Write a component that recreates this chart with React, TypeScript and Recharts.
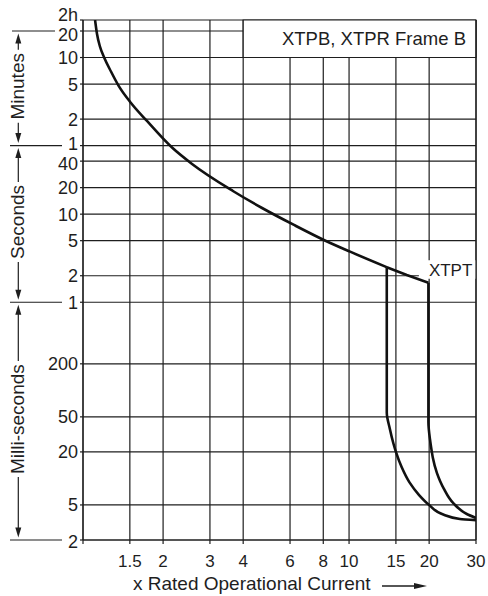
import React from 'react';
import {
  ComposedChart,
  Line,
  XAxis,
  YAxis,
  CartesianGrid,
  ReferenceArea,
  ReferenceLine,
} from 'recharts';

const FONT = '"Liberation Sans", Arial, Helvetica, sans-serif';
const INK = '#1e1e1e';

// ---- axes ----
const xTicks = [1, 1.5, 2, 3, 4, 6, 8, 10, 15, 20, 30];
const xTickLabels = ['', '1.5', '2', '3', '4', '6', '8', '10', '15', '20', '30'];
const yTicks = [1600, 1200, 600, 300, 120, 60, 40, 20, 10, 5, 2, 1, 0.2, 0.05, 0.02, 0.005, 0.002];
const yTickLabels = ['2h', '20', '10', '5', '2', '1', '40', '20', '10', '5', '2', '1', '200', '50', '20', '5', '2'];

// ---- curves: x = multiple of rated operational current, t = tripping time (s) ----
const frameBThermalX = [1.11, 1.129, 1.158, 1.202, 1.274, 1.358, 1.515, 1.736, 2.156, 2.57, 3.673, 4.71, 6.21, 8.19, 10.09, 13.86];
const frameBThermalT = [1600, 1109, 800, 597, 416, 290, 183, 115, 57.4, 37.1, 18.2, 11.75, 7.54, 4.96, 3.75, 2.5];

const xtptThermalX = [13.86, 16.48, 19.87];
const xtptThermalT = [2.5, 2.04, 1.667];

const frameBInstX = [13.86, 13.86, 14.23, 14.68, 15.0, 15.76, 16.87, 18.3, 20.0, 22.7, 26.1, 30];
const frameBInstT = [2.5, 0.056, 0.0367, 0.0249, 0.02, 0.01345, 0.00901, 0.00652, 0.005, 0.00387, 0.00346, 0.00336];

const xtptInstX = [19.87, 19.87, 20.2, 20.47, 20.65, 21.4, 22.0, 22.7, 24.7, 27.7, 30];
const xtptInstT = [1.667, 0.0436, 0.0261, 0.02, 0.01714, 0.01148, 0.0093, 0.00766, 0.0052, 0.00395, 0.00356];

const zip = (xs: number[], ts: number[]) => xs.map((x, i) => ({ x, t: ts[i] }));

const frameBThermal = zip(frameBThermalX, frameBThermalT);
const xtptThermal = zip(xtptThermalX, xtptThermalT);
const frameBInst = zip(frameBInstX, frameBInstT);
const xtptInst = zip(xtptInstX, xtptInstT);

const Y_DOMAIN: [number, number] = [0.002, 1600];
const X_DOMAIN: [number, number] = [1, 30];

// layout
const W = 488;
const H = 596;
const PLOT_TOP = 20;
const PLOT_BOTTOM = 540;

const near = (a: number, b: number) => Math.abs(a - b) / Math.max(Math.abs(b), 1e-9) < 1e-6;

// small vertical nudges for crowded tick labels
const yLabelNudge: [number, number][] = [
  [1600, -5],
  [1200, 4],
  [60, -2],
  [40, 2.5],
  [0.002, 2],
];

const YTick = (props: any) => {
  const { x, y, payload } = props;
  const v = payload.value;
  const i = yTicks.findIndex((t) => near(v, t));
  const label = i >= 0 ? yTickLabels[i] : '';
  const n = yLabelNudge.find(([t]) => near(v, t));
  const dy = n ? n[1] : 0;
  return (
    <text x={x} y={y + dy} dy="0.36em" textAnchor="end" fontSize={18} fill={INK} fontFamily={FONT}>
      {label}
    </text>
  );
};

const XTick = (props: any) => {
  const { x, y, payload } = props;
  const v = payload.value;
  const i = xTicks.findIndex((t) => near(v, t));
  const label = i >= 0 ? xTickLabels[i] : '';
  return (
    <text x={x} y={y + 15} dy="0.36em" textAnchor="middle" fontSize={17} fill={INK} fontFamily={FONT}>
      {label}
    </text>
  );
};

// annotation helper (same mapping as the y axis) for the side bands
const LMAX = Math.log10(Y_DOMAIN[1]);
const LMIN = Math.log10(Y_DOMAIN[0]);
const yPix = (v: number) => PLOT_TOP + ((LMAX - Math.log10(v)) / (LMAX - LMIN)) * (PLOT_BOTTOM - PLOT_TOP);

const bands = [
  { label: 'Minutes', top: 1200, bottom: 60, len: 67 },
  { label: 'Seconds', top: 60, bottom: 1, len: 74 },
  { label: 'Milli-seconds', top: 1, bottom: 0.002, len: 110 },
];

const AX = 18.3;

const SideBands = () => (
  <svg width={W} height={H} style={{ position: 'absolute', left: 0, top: 0, pointerEvents: 'none' }}>
    <line x1={12} x2={55} y1={yPix(1200)} y2={yPix(1200)} stroke={INK} strokeWidth={1.2} />
    {[60, 1, 0.002].map((v) => (
      <line key={v} x1={10} x2={62} y1={yPix(v)} y2={yPix(v)} stroke={INK} strokeWidth={1.2} />
    ))}
    {bands.map((b) => {
      const yT = yPix(b.top);
      const yB = yPix(b.bottom);
      const mid = (yT + yB) / 2 - 2;
      const tipT = yT + 2.5;
      const tipB = yB - 2.5;
      const tS = mid - b.len / 2 - 3;
      const tE = mid + b.len / 2 + 3;
      return (
        <g key={b.label}>
          <line x1={AX} x2={AX} y1={tipT + 6} y2={tS} stroke={INK} strokeWidth={1.2} />
          <line x1={AX} x2={AX} y1={tE} y2={tipB - 6} stroke={INK} strokeWidth={1.2} />
          <polygon points={`${AX},${tipT} ${AX - 3},${tipT + 10} ${AX + 3},${tipT + 10}`} fill={INK} />
          <polygon points={`${AX},${tipB} ${AX - 3},${tipB - 10} ${AX + 3},${tipB - 10}`} fill={INK} />
          <text
            x={AX - 1}
            y={mid}
            dy="0.36em"
            textAnchor="middle"
            fontSize={19}
            fill={INK}
            fontFamily={FONT}
            transform={`rotate(-90 ${AX - 1} ${mid})`}
          >
            {b.label}
          </text>
        </g>
      );
    })}
    <text x={133} y={583} dy="0.36em" fontSize={19} fill={INK} fontFamily={FONT}>
      x Rated Operational Current
    </text>
    <line x1={382} x2={418} y1={586} y2={586} stroke={INK} strokeWidth={1.3} />
    <polygon points="427,586 414,583 414,589" fill={INK} />
  </svg>
);

export default function App() {
  return (
    <div style={{ position: 'absolute', left: 0, top: 0, width: W, height: H, background: '#fff' }}>
      <div style={{ position: 'absolute', left: 0, top: 0 }}>
        <ComposedChart width={W} height={H} margin={{ top: PLOT_TOP, right: 12, bottom: 0, left: 0 }}>
          <CartesianGrid stroke={INK} strokeWidth={1.2} />
          <XAxis
            dataKey="x"
            type="number"
            scale="log"
            domain={X_DOMAIN}
            ticks={xTicks}
            allowDataOverflow
            height={56}
            tickSize={4}
            tickMargin={2}
            tick={<XTick />}
            axisLine={{ stroke: INK, strokeWidth: 1.2 }}
            tickLine={{ stroke: INK, strokeWidth: 1.2 }}
            interval={0}
          />
          <YAxis
            dataKey="t"
            type="number"
            scale="log"
            domain={Y_DOMAIN}
            ticks={yTicks}
            allowDataOverflow
            width={83}
            tickSize={3}
            tickMargin={2}
            tick={<YTick />}
            axisLine={{ stroke: INK, strokeWidth: 1.2 }}
            tickLine={{ stroke: INK, strokeWidth: 1.2 }}
            interval={0}
          />
          <ReferenceArea
            x1={4}
            x2={30}
            y1={600}
            y2={1600}
            fill="#fff"
            fillOpacity={1}
            stroke={INK}
            strokeWidth={1.2}
            ifOverflow="visible"
            label={{ value: 'XTPB, XTPR Frame B', position: 'insideRight', offset: 10, fontSize: 18.5, fill: INK, fontFamily: FONT }}
          />
          <ReferenceArea
            x1={18.3}
            x2={30}
            y1={1.85}
            y2={3.0}
            fill="#fff"
            fillOpacity={1}
            stroke="none"
            ifOverflow="visible"
            label={{ value: 'XTPT', position: 'insideLeft', offset: 10, fontSize: 17, fill: INK, fontFamily: FONT }}
          />
          <ReferenceLine x={30} stroke={INK} strokeWidth={1.2} ifOverflow="visible" />
          <Line data={frameBThermal} dataKey="t" type="monotone" stroke="#111" strokeWidth={2.6} dot={false} isAnimationActive={false} />
          <Line data={xtptThermal} dataKey="t" type="linear" stroke="#111" strokeWidth={2.6} dot={false} isAnimationActive={false} />
          <Line data={frameBInst} dataKey="t" type="monotoneY" stroke="#111" strokeWidth={2.6} dot={false} isAnimationActive={false} />
          <Line data={xtptInst} dataKey="t" type="monotoneY" stroke="#111" strokeWidth={2.6} dot={false} isAnimationActive={false} />
        </ComposedChart>
      </div>
      <SideBands />
    </div>
  );
}
